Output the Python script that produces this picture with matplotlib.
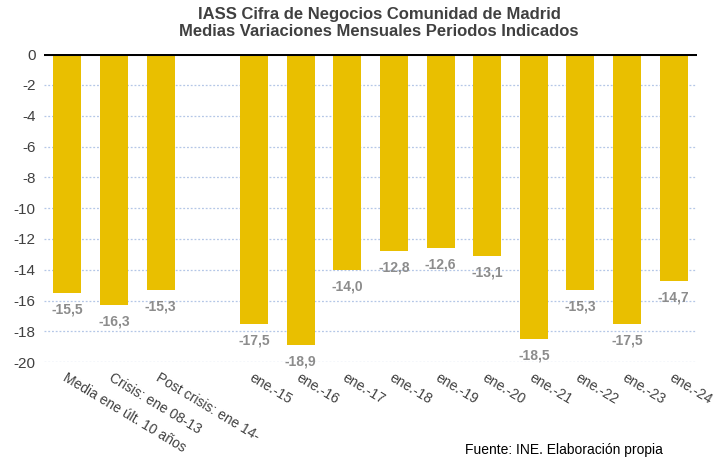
import matplotlib.pyplot as plt
from matplotlib import font_manager

# datos
etiquetas = ['Media ene últ. 10 años', 'Crisis: ene 08-13', 'Post crisis: ene 14-', '',
             'ene.-15', 'ene.-16', 'ene.-17', 'ene.-18', 'ene.-19', 'ene.-20',
             'ene.-21', 'ene.-22', 'ene.-23', 'ene.-24']
valores = [-15.5, -16.3, -15.3, None,
           -17.5, -18.9, -14.0, -12.8, -12.6, -13.1,
           -18.5, -15.3, -17.5, -14.7]
yticks = list(range(0, -21, -2))

names = {f.name for f in font_manager.fontManager.ttflist}
narrow = 'Liberation Sans Narrow' if 'Liberation Sans Narrow' in names else 'Liberation Sans'
plt.rcParams['font.family'] = ['Liberation Sans', 'DejaVu Sans']

fig = plt.figure(figsize=(7.15, 4.59), dpi=100)
ax = fig.add_axes([0.0615, 0.211, 0.9135, 0.671])

x = list(range(len(etiquetas)))
for i, v in enumerate(valores):
    if v is None:
        continue
    ax.bar(i, v, width=0.6, color='#E9BF00', zorder=3)
    txt = ('%.1f' % v).replace('.', ',')
    ax.annotate(txt, (i, v), xytext=(0, -7), textcoords='offset points',
                ha='center', va='top', fontsize=10, fontweight='bold', color='#8C8C8C')

ax.set_ylim(-20, 0)
ax.set_xlim(-0.5, len(etiquetas) - 0.5)
ax.set_yticks(yticks)
ax.set_yticklabels([str(t) for t in yticks], fontsize=11, color='#404040')
ax.set_xticks(x)
ax.set_xticklabels(etiquetas, rotation=-31, ha='left', va='top',
                   rotation_mode='anchor', fontsize=10, color='#404040')
ax.tick_params(length=0, pad=6)
ax.tick_params(axis='x', pad=6)

for t in yticks[1:]:
    ax.axhline(t, color='#B4C7E7', lw=0.9, ls=(0, (1.5, 1.5)), zorder=1)
ax.axhline(0, color='black', lw=2.2, zorder=4)
for s in ax.spines.values():
    s.set_visible(False)

fig.text(0.53, 0.985, 'IASS Cifra de Negocios Comunidad de Madrid\nMedias Variaciones Mensuales Periodos Indicados',
         ha='center', va='top', fontsize=12, fontweight='bold', color='#404040',
         family=narrow, linespacing=1.15)
fig.text(0.65, 0.004, 'Fuente: INE. Elaboración propia', ha='left', va='bottom',
         fontsize=10, color='black')

fig.savefig('out.png', dpi=100)
